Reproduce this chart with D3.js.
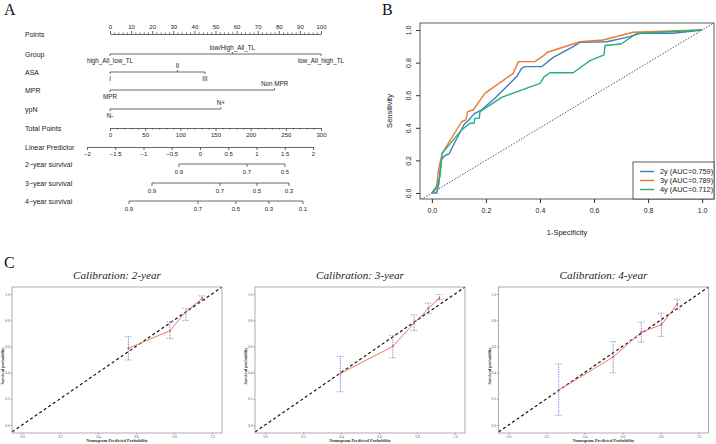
<!DOCTYPE html>
<html>
<head>
<meta charset="utf-8">
<script src="https://cdn.jsdelivr.net/npm/d3@7"></script>
<style>
  body { margin: 0; background: #fff; }
  text { font-family: "Liberation Sans", Arial, sans-serif; fill: #222; }
  .serif { font-family: "Liberation Serif", "Times New Roman", serif; }
</style>
</head>
<body>
<div id="chart"></div>
<script>
// ---------- data: panel A (nomogram) ----------
const pointTicks = d3.range(0, 101, 10);
const totalTicks = d3.range(0, 301, 50);
const lpTicks = [-2, -1.5, -1, -0.5, 0, 0.5, 1, 1.5, 2];
const lpDomain = [-2, 2];
const lpAtTotalPoints = [-32.7, 288.6];   // total points where LP = -2 and LP = 2

const groupLevels = ["high_All_low_TL", "low/High_All_TL", "low_All_high_TL"];
const groupPoints = [0, 58, 100];
const asaLevels = ["I", "II", "III"];
const asaPoints = [0, 32, 45];
const mprLevels = ["MPR", "Non MPR"];
const mprPoints = [0, 78];
const ypnLevels = ["N-", "N+"];
const ypnPoints = [0, 52.5];

const surv2Labels = [0.9, 0.7, 0.5];
const surv2Total = [98.1, 194.8, 248.8];
const surv3Labels = [0.9, 0.7, 0.5, 0.3];
const surv3Total = [59.7, 156.4, 209, 254.5];
const surv4Labels = [0.9, 0.7, 0.5, 0.3, 0.1];
const surv4Total = [27, 125.1, 179.1, 226, 274.4];

// ---------- data: panel B (ROC) ----------
const rocNames = ["2y (AUC=0.759)", "3y (AUC=0.789)", "4y (AUC=0.712)"];
const rocColors = ["#3a80c2", "#ea7a30", "#25ad80"];
const roc2Fpr = [0, 0.018, 0.026, 0.033, 0.051, 0.063, 0.12, 0.134, 0.148, 0.159, 0.183, 0.233, 0.314, 0.332, 0.344, 0.406, 0.449, 0.523, 0.548, 0.647, 0.733, 0.764, 0.893, 1];
const roc2Tpr = [0, 0, 0.06, 0.202, 0.233, 0.239, 0.423, 0.443, 0.47, 0.489, 0.509, 0.581, 0.714, 0.765, 0.775, 0.775, 0.832, 0.898, 0.924, 0.928, 0.959, 0.98, 0.98, 1];
const roc3Fpr = [0, 0.018, 0.023, 0.038, 0.11, 0.126, 0.132, 0.153, 0.196, 0.301, 0.32, 0.381, 0.42, 0.425, 0.548, 0.634, 0.745, 1];
const roc3Tpr = [0, 0.03, 0.131, 0.243, 0.437, 0.448, 0.499, 0.509, 0.611, 0.734, 0.806, 0.806, 0.85, 0.862, 0.928, 0.939, 0.986, 1];
const roc4Fpr = [0, 0.017, 0.03, 0.038, 0.11, 0.141, 0.156, 0.159, 0.175, 0.178, 0.258, 0.40, 0.416, 0.437, 0.523, 0.585, 0.637, 0.641, 0.70, 0.745, 0.771, 1];
const roc4Tpr = [0, 0.04, 0.1, 0.243, 0.387, 0.428, 0.428, 0.458, 0.458, 0.499, 0.587, 0.673, 0.714, 0.738, 0.738, 0.812, 0.847, 0.905, 0.914, 0.965, 0.98, 1];
const rocTicks = [0, 0.2, 0.4, 0.6, 0.8, 1];

// ---------- data: panel C (calibration) ----------
const calTitles = ["Calibration: 2-year", "Calibration: 3-year", "Calibration: 4-year"];
const cal2Pred = [0.56, 0.779, 0.863, 0.949];
const cal2Obs  = [0.585, 0.72, 0.865, 0.967];
const cal2Lo   = [0.496, 0.66, 0.796, 0.95];
const cal2Hi   = [0.674, 0.789, 0.89, 0.985];
const cal3Pred = [0.397, 0.673, 0.785, 0.86, 0.918];
const cal3Obs  = [0.393, 0.60, 0.778, 0.89, 0.967];
const cal3Lo   = [0.254, 0.512, 0.72, 0.85, 0.955];
const cal3Hi   = [0.524, 0.683, 0.84, 0.93, 0.995];
const cal4Pred = [0.264, 0.551, 0.699, 0.805, 0.889];
const cal4Obs  = [0.266, 0.519, 0.709, 0.765, 0.924];
const cal4Lo   = [0.074, 0.398, 0.633, 0.676, 0.884];
const cal4Hi   = [0.466, 0.636, 0.785, 0.853, 0.96];
const calTicks = [0, 0.2, 0.4, 0.6, 0.8, 1];

const width = 716, height = 444;
const svg = d3.select("#chart")
  .append("svg")
    .attr("width", width)
    .attr("height", height);
svg.append("rect").attr("width", width).attr("height", height).attr("fill", "#fff");

// panel letters
[["A", 4, 15], ["B", 382, 15], ["C", 4, 268]].forEach(([t, x, y]) => {
  svg.append("text").attr("class", "serif").text(t)
    .attr("x", x).attr("y", y)
    .style("font-size", "16px").style("fill", "#111");
});

// ================= Panel A =================
const nomo = svg.append("g");
const lineColor = "#444";
const xPoints = d3.scaleLinear().domain([0, 100]).range([110, 321]);
const xTotal = d3.scaleLinear().domain([0, 300]).range([110, 321]);
const xLp = d3.scaleLinear().domain(lpDomain).range(lpAtTotalPoints.map(xTotal));

const rowNames = ["Points", "Group", "ASA", "MPR", "ypN", "Total Points",
  "Linear Predictor", "2\u2212year survival", "3\u2212year survival", "4\u2212year survival"];
const rowY = [34, 54, 72, 90, 109, 128, 147, 164, 183, 201];

nomo.selectAll("text.row")
  .data(rowNames)
  .join("text")
    .attr("class", "row")
    .text(d => d)
    .attr("x", 25)
    .attr("y", (d, i) => rowY[i] + 2.5)
    .style("font-size", "7px");

const styleAxis = (g) => {
  g.select(".domain").attr("stroke", lineColor).attr("stroke-width", 0.8);
  g.selectAll(".tick line").attr("stroke", lineColor).attr("stroke-width", 0.8);
  g.selectAll(".tick text").style("font-size", "6px").style("fill", "#222")
    .style("font-family", "Liberation Sans, Arial, sans-serif");
};

// Points axis (ticks up, labels above)
nomo.append("g")
  .attr("transform", `translate(0,${rowY[0]})`)
  .call(d3.axisTop(xPoints).tickValues(pointTicks).tickSize(3).tickSizeOuter(0).tickPadding(2))
  .call(styleAxis);
nomo.append("g")
  .attr("transform", `translate(0,${rowY[0]})`)
  .call(d3.axisTop(xPoints).tickValues(d3.range(0, 101, 2).filter(v => v % 10 !== 0))
    .tickSize(1.5).tickSizeOuter(0).tickFormat(""))
  .call(styleAxis)
  .select(".domain").remove();

// categorical variables
const varRows = [
  [groupLevels, groupPoints, rowY[1]],
  [asaLevels, asaPoints, rowY[2]],
  [mprLevels, mprPoints, rowY[3]],
  [ypnLevels, ypnPoints, rowY[4]]
];
varRows.forEach(([levels, pts, y]) => {
  const g = nomo.append("g");
  g.append("line")
    .attr("x1", xPoints(d3.min(pts))).attr("x2", xPoints(d3.max(pts)))
    .attr("y1", y).attr("y2", y)
    .attr("stroke", lineColor).attr("stroke-width", 0.8);
  levels.forEach((lev, i) => {
    const up = i % 2 === 1;
    const x = xPoints(pts[i]);
    g.append("line")
      .attr("x1", x).attr("x2", x)
      .attr("y1", y).attr("y2", up ? y - 2 : y + 2)
      .attr("stroke", lineColor).attr("stroke-width", 0.8);
    g.append("text")
      .text(lev)
      .attr("x", x)
      .attr("y", up ? y - 4.5 : y + 9)
      .attr("text-anchor", "middle")
      .style("font-size", "6.3px");
  });
});

// Total points
nomo.append("g")
  .attr("transform", `translate(0,${rowY[5]})`)
  .call(d3.axisBottom(xTotal).tickValues(totalTicks).tickSize(3).tickSizeOuter(0).tickPadding(2))
  .call(styleAxis);
nomo.append("g")
  .attr("transform", `translate(0,${rowY[5]})`)
  .call(d3.axisBottom(xTotal).tickValues(d3.range(0, 301, 10).filter(v => v % 50 !== 0))
    .tickSize(1.5).tickSizeOuter(0).tickFormat(""))
  .call(styleAxis)
  .select(".domain").remove();

// Linear predictor
nomo.append("g")
  .attr("transform", `translate(0,${rowY[6]})`)
  .call(d3.axisBottom(xLp).tickValues(lpTicks).tickSize(3).tickSizeOuter(0).tickPadding(2)
    .tickFormat(d => d < 0 ? "\u2212" + Math.abs(d) : String(d)))
  .call(styleAxis);

// survival axes
[[surv2Labels, surv2Total, rowY[7]], [surv3Labels, surv3Total, rowY[8]], [surv4Labels, surv4Total, rowY[9]]]
  .forEach(([labs, tots, y]) => {
    const s = d3.scaleOrdinal().domain(labs).range(tots.map(xTotal));
    const g = nomo.append("g").attr("transform", `translate(0,${y})`);
    g.append("line")
      .attr("x1", d3.min(tots.map(xTotal))).attr("x2", d3.max(tots.map(xTotal)))
      .attr("stroke", lineColor).attr("stroke-width", 0.8);
    labs.forEach(l => {
      g.append("line").attr("x1", s(l)).attr("x2", s(l)).attr("y1", 0).attr("y2", 3)
        .attr("stroke", lineColor).attr("stroke-width", 0.8);
      g.append("text").text(d3.format(".1f")(l))
        .attr("x", s(l)).attr("y", 10)
        .attr("text-anchor", "middle")
        .style("font-size", "6px");
    });
  });

// ================= Panel B =================
const roc = svg.append("g");
const xRoc = d3.scaleLinear().domain([-0.044, 1.044]).range([420, 714]);
const yRoc = d3.scaleLinear().domain([-0.037, 1.043]).range([199, 23]);

svg.append("clipPath").attr("id", "rocClip")
  .append("rect").attr("x", 420).attr("y", 23).attr("width", 294).attr("height", 176);

roc.append("g")
  .attr("transform", "translate(0,199)")
  .call(d3.axisBottom(xRoc).tickValues(rocTicks).tickSize(4).tickSizeOuter(0).tickPadding(5)
    .tickFormat(d3.format(".1f")))
  .call(g => g.select(".domain").remove())
  .call(g => g.selectAll(".tick line").attr("stroke", "#333"))
  .call(g => g.selectAll(".tick text").style("font-size", "7px").style("fill", "#222"));

roc.append("g")
  .attr("transform", "translate(420,0)")
  .call(d3.axisLeft(yRoc).tickValues(rocTicks).tickSize(4).tickSizeOuter(0)
    .tickFormat(d3.format(".1f")))
  .call(g => g.select(".domain").remove())
  .call(g => g.selectAll(".tick line").attr("stroke", "#333"))
  .call(g => g.selectAll(".tick text")
    .attr("x", 0).attr("dy", 0)
    .attr("text-anchor", "middle")
    .attr("transform", "translate(-9.5,0) rotate(-90)")
    .style("font-size", "7px").style("fill", "#222"));

// diagonal reference
roc.append("line")
  .attr("clip-path", "url(#rocClip)")
  .attr("x1", xRoc(-0.05)).attr("y1", yRoc(-0.05))
  .attr("x2", xRoc(1.05)).attr("y2", yRoc(1.05))
  .attr("stroke", "#444").attr("stroke-width", 0.9)
  .attr("stroke-dasharray", "1.5,1.5");

const rocSeries = [
  roc2Fpr.map((f, i) => [f, roc2Tpr[i]]),
  roc3Fpr.map((f, i) => [f, roc3Tpr[i]]),
  roc4Fpr.map((f, i) => [f, roc4Tpr[i]])
];
const rocLine = d3.line().x(d => xRoc(d[0])).y(d => yRoc(d[1]));
roc.selectAll("path.roc")
  .data(rocSeries)
  .join("path")
    .attr("class", "roc")
    .attr("d", rocLine)
    .attr("fill", "none")
    .attr("stroke", (d, i) => rocColors[i])
    .attr("stroke-width", 1.4)
    .attr("stroke-linejoin", "round");

roc.append("rect")
  .attr("x", 420).attr("y", 23).attr("width", 294).attr("height", 176)
  .attr("fill", "none").attr("stroke", "#333").attr("stroke-width", 0.8);

// legend
const leg = roc.append("g");
leg.append("rect")
  .attr("x", 633).attr("y", 162).attr("width", 81).attr("height", 37)
  .attr("fill", "#fff").attr("stroke", "#333").attr("stroke-width", 0.8);
rocNames.forEach((n, i) => {
  const y = 171.5 + i * 9;
  leg.append("line").attr("x1", 640).attr("x2", 654).attr("y1", y).attr("y2", y)
    .attr("stroke", rocColors[i]).attr("stroke-width", 1.4);
  leg.append("text").text(n).attr("x", 660).attr("y", y + 2.5)
    .style("font-size", "7.4px");
});

roc.append("text").text("1-Specificity")
  .attr("x", 567).attr("y", 235).attr("text-anchor", "middle")
  .style("font-size", "7.5px");
roc.append("text").text("Sensitivity")
  .attr("transform", "translate(392,111) rotate(-90)")
  .attr("text-anchor", "middle")
  .style("font-size", "7.5px");

// ================= Panel C =================
const calData = [
  [cal2Pred, cal2Obs, cal2Lo, cal2Hi],
  [cal3Pred, cal3Obs, cal3Lo, cal3Hi],
  [cal4Pred, cal4Obs, cal4Lo, cal4Hi]
];
const calLeft = [12, 255, 498.5];
const boxW = 210, boxTop = 287, boxBottom = 433;

calData.forEach(([pred, obs, lo, hi], k) => {
  const left = calLeft[k];
  const xs = d3.scaleLinear().domain([-0.053, 1.053]).range([left, left + boxW]);
  const ys = d3.scaleLinear().domain([-0.061, 1.053]).range([boxBottom, boxTop]);
  const g = svg.append("g");
  const clipId = `calClip${k}`;
  svg.append("clipPath").attr("id", clipId)
    .append("rect").attr("x", left).attr("y", boxTop).attr("width", boxW).attr("height", boxBottom - boxTop);

  g.append("text").attr("class", "serif").text(calTitles[k])
    .attr("x", left + boxW / 2).attr("y", 279)
    .attr("text-anchor", "middle")
    .style("font-size", "11.2px").style("font-style", "italic").style("fill", "#222");

  // axes
  g.append("g")
    .attr("transform", `translate(0,${boxBottom})`)
    .call(d3.axisBottom(xs).tickValues(calTicks).tickSize(1.5).tickSizeOuter(0).tickPadding(0.5)
      .tickFormat(d3.format(".1f")))
    .call(a => a.select(".domain").remove())
    .call(a => a.selectAll(".tick line").attr("stroke", "#999"))
    .call(a => a.selectAll(".tick text").attr("class", "serif")
      .style("font-size", "3.6px").style("fill", "#555"));
  g.append("g")
    .attr("transform", `translate(${left},0)`)
    .call(d3.axisLeft(ys).tickValues(calTicks).tickSize(1.5).tickSizeOuter(0).tickPadding(1)
      .tickFormat(d3.format(".1f")))
    .call(a => a.select(".domain").remove())
    .call(a => a.selectAll(".tick line").attr("stroke", "#999"))
    .call(a => a.selectAll(".tick text").attr("class", "serif")
      .style("font-size", "3.6px").style("fill", "#555"));

  g.append("text").attr("class", "serif").text("Nomogram-Predicted Probability")
    .attr("x", left + boxW / 2).attr("y", 441.5).attr("text-anchor", "middle")
    .style("font-size", "4.3px").style("font-weight", "bold").style("fill", "#333");
  g.append("text").attr("class", "serif").text("Survival probability")
    .attr("transform", `translate(${left - 8},${(boxTop + boxBottom) / 2 + 6}) rotate(-90)`)
    .attr("text-anchor", "middle")
    .style("font-size", "4.3px").style("font-weight", "bold").style("fill", "#333");

  // diagonal
  g.append("line")
    .attr("clip-path", `url(#${clipId})`)
    .attr("x1", xs(-0.1)).attr("y1", ys(-0.1))
    .attr("x2", xs(1.1)).attr("y2", ys(1.1))
    .attr("stroke", "#111").attr("stroke-width", 1.2)
    .attr("stroke-dasharray", "3,2.5");

  // error bars
  pred.forEach((p, i) => {
    const x = xs(p);
    g.append("line").attr("x1", x).attr("x2", x).attr("y1", ys(lo[i])).attr("y2", ys(hi[i]))
      .attr("stroke", "#6b6bd9").attr("stroke-width", 0.8).attr("stroke-dasharray", "1.5,1");
    [lo[i], hi[i]].forEach(v => {
      g.append("line").attr("x1", x - 3.5).attr("x2", x + 3.5).attr("y1", ys(v)).attr("y2", ys(v))
        .attr("stroke", "#8a8ae6").attr("stroke-width", 0.8).attr("stroke-dasharray", "1.5,1");
    });
  });

  // calibration curve
  g.append("path")
    .datum(pred.map((p, i) => [p, obs[i]]))
    .attr("d", d3.line().x(d => xs(d[0])).y(d => ys(d[1])))
    .attr("fill", "none").attr("stroke", "#f07a66").attr("stroke-width", 1);
  g.selectAll("circle.pt")
    .data(pred.map((p, i) => [p, obs[i]]))
    .join("circle")
      .attr("class", "pt")
      .attr("cx", d => xs(d[0])).attr("cy", d => ys(d[1]))
      .attr("r", 1).attr("fill", "#d9534a");

  g.append("rect")
    .attr("x", left).attr("y", boxTop).attr("width", boxW).attr("height", boxBottom - boxTop)
    .attr("fill", "none").attr("stroke", "#999").attr("stroke-width", 0.8);
});
</script>
</body>
</html>
